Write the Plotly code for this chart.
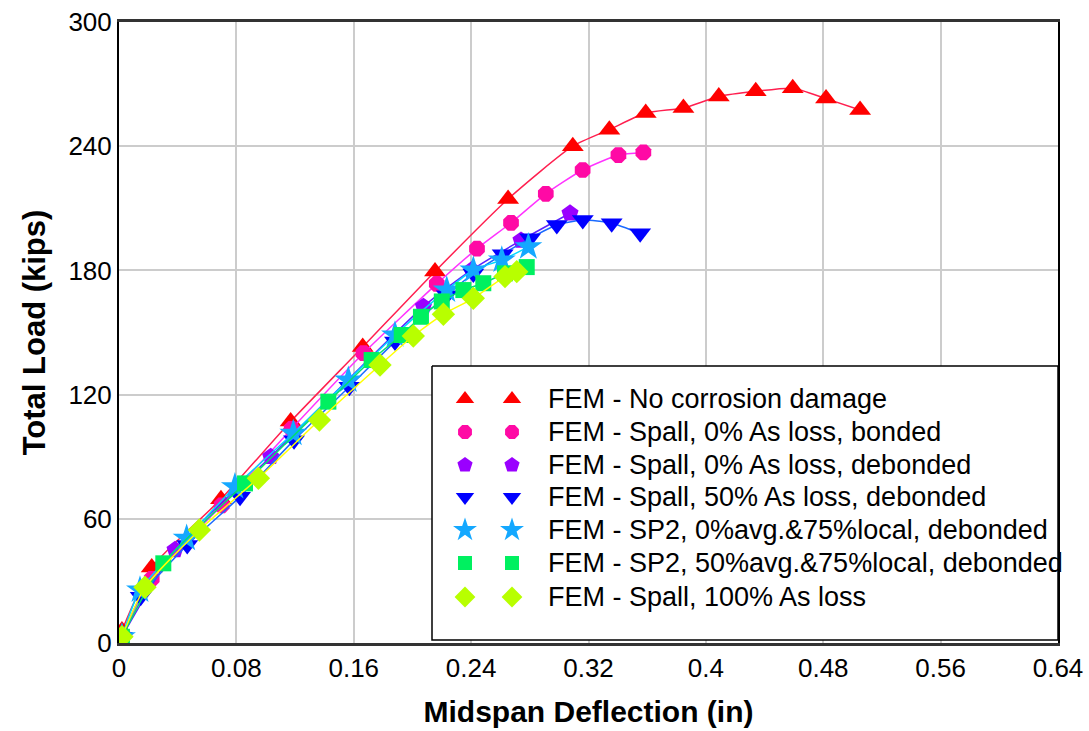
import plotly.graph_objects as go

# Midspan deflection (in) and total load (kips) for each FEM case
nc_x = [0.002, 0.0223, 0.0695, 0.117, 0.1661, 0.2154, 0.2652, 0.3093, 0.3342, 0.359, 0.3847, 0.4088, 0.434, 0.4592, 0.4819, 0.5051]
nc_y = [6, 36.5, 69.5, 107, 143, 179.5, 214.5, 240, 248, 256, 258.5, 264, 266.5, 268, 263, 257.5]

sb_x = [0.002, 0.0223, 0.070, 0.1177, 0.1666, 0.2166, 0.2440, 0.2672, 0.2909, 0.316, 0.3404, 0.3574]
sb_y = [3, 31, 66.5, 103.5, 140, 173.5, 190.5, 203, 217, 228.5, 235.7, 237]

sd_x = [0.002, 0.0382, 0.1034, 0.2075, 0.2404, 0.2740, 0.3074]
sd_y = [3, 45, 90, 162.5, 180.2, 194.5, 207.6]

s50_x = [0.002, 0.0148, 0.0465, 0.0825, 0.1193, 0.157, 0.1881, 0.2234, 0.2415, 0.2615, 0.2802, 0.2984, 0.3161, 0.3358, 0.3552]
s50_y = [3, 22.4, 47.3, 70.7, 98, 123.8, 145.6, 168, 178.5, 187.8, 195.5, 201.9, 204.3, 202.8, 197.9]

sp0_x = [0.002, 0.0143, 0.0461, 0.079, 0.1188, 0.1563, 0.1881, 0.2234, 0.2415, 0.2609, 0.279]
sp0_y = [3, 25.6, 50.6, 75.5, 101.3, 127, 148.8, 170.5, 180.2, 185, 191.4]

sp50_x = [0.002, 0.0302, 0.0859, 0.1427, 0.1722, 0.1927, 0.2058, 0.2200, 0.2347, 0.2483, 0.2631, 0.2779]
sp50_y = [3, 38.5, 77.1, 116.6, 136.7, 148.8, 157.6, 165, 170.5, 173.8, 178.6, 181.6]

s100_x = [0.002, 0.0177, 0.0548, 0.095, 0.1366, 0.1779, 0.2006, 0.2211, 0.2415, 0.2631, 0.2711]
s100_y = [3, 26.9, 54.6, 79.6, 107.7, 134.3, 148.3, 158.8, 166.5, 177, 179.4]

names = [
    "FEM - No corrosion damage",
    "FEM - Spall, 0% As loss, bonded",
    "FEM - Spall, 0% As loss, debonded",
    "FEM - Spall, 50% As loss, debonded",
    "FEM - SP2, 0%avg.&75%local, debonded",
    "FEM - SP2, 50%avg.&75%local, debonded",
    "FEM - Spall, 100% As loss",
]

x_ticks = [0, 0.08, 0.16, 0.24, 0.32, 0.4, 0.48, 0.56, 0.64]
x_tick_text = ["0", "0.08", "0.16", "0.24", "0.32", "0.4", "0.48", "0.56", "0.64"]
y_ticks = [0, 60, 120, 180, 240, 300]

# (x, y, symbol, marker colour, line colour, marker size, legend marker size)
series = [
    (nc_x, nc_y, "triangle-up", "#ff0000", "#ff1f4f", 19, 16),
    (sb_x, sb_y, "octagon", "#ff0aa5", "#ff33ff", 17, 15),
    (sd_x, sd_y, "pentagon", "#9a00ff", "#5a22ff", 18, 16),
    (s50_x, s50_y, "triangle-down", "#0000ff", "#1a6aff", 19, 16),
    (sp0_x, sp0_y, "star", "#14a8ff", "#00d8ff", 21, 18),
    (sp50_x, sp50_y, "square", "#00f060", "#00e070", 16, 14),
    (s100_x, s100_y, "diamond", "#b8ff00", "#ffff00", 18, 16),
]

FONT = "Liberation Sans, Arial, sans-serif"

fig = go.Figure()

for (xs, ys, sym, mcol, lcol, msize, _), name in zip(series, names):
    fig.add_trace(go.Scatter(
        x=xs, y=ys, mode="lines", name=name, showlegend=False,
        line=dict(color=lcol, width=1.5, shape="spline", smoothing=0.6),
        hoverinfo="skip",
    ))
    fig.add_trace(go.Scatter(
        x=xs, y=ys, mode="markers", name=name, showlegend=False,
        marker=dict(symbol=sym, color=mcol, size=msize, line=dict(width=0)),
    ))

# Legend panel drawn on a pixel-scaled overlay axis pair
box_x = [432, 1058, 1058, 432, 432]
box_y = [366, 366, 640, 640, 366]
fig.add_trace(go.Scatter(
    x=box_x, y=box_y, xaxis="x2", yaxis="y2", mode="lines",
    fill="toself", fillcolor="white", line=dict(color="black", width=1.5),
    showlegend=False, hoverinfo="skip",
))
row_y = [399, 432, 465, 497, 530, 563, 597]
for (xs, ys, sym, mcol, lcol, msize, lsize), name, ry in zip(series, names, row_y):
    fig.add_trace(go.Scatter(
        x=[465, 512], y=[ry, ry], xaxis="x2", yaxis="y2", mode="markers",
        marker=dict(symbol=sym, color=mcol, size=lsize, line=dict(width=0)),
        showlegend=False, hoverinfo="skip",
    ))
    fig.add_annotation(
        x=546, y=ry, xref="x2", yref="y2", text=name, showarrow=False,
        xanchor="left", yanchor="middle",
        font=dict(family=FONT, size=27, color="black"),
    )

fig.update_layout(
    width=1089, height=731,
    margin=dict(l=119, r=31, t=22, b=88),
    paper_bgcolor="white", plot_bgcolor="white",
    showlegend=False,
    font=dict(family=FONT, color="black"),
    xaxis=dict(
        range=[0, 0.64], tickvals=x_ticks, ticktext=x_tick_text,
        showgrid=True, gridcolor="#cccccc", gridwidth=1.5,
        showline=True, linecolor="#333333", linewidth=2.5, mirror=True,
        zeroline=False, ticks="", tickfont=dict(size=26, family=FONT),
        automargin=False,
        title=dict(text="<b>Midspan Deflection (in)</b>", font=dict(size=30, family=FONT), standoff=20),
    ),
    yaxis=dict(
        range=[0, 300], tickvals=y_ticks,
        showgrid=True, gridcolor="#cccccc", gridwidth=1.5,
        showline=True, linecolor="black", linewidth=2, mirror=True,
        zeroline=False, ticks="", tickfont=dict(size=26, family=FONT),
        automargin=False,
        title=dict(text="<b>Total Load (kips)</b>", font=dict(size=31, family=FONT), standoff=14),
    ),
    xaxis2=dict(overlaying="x", range=[119, 1058], visible=False, fixedrange=True),
    yaxis2=dict(overlaying="y", range=[643, 22], visible=False, fixedrange=True),
)

fig.write_html("out.html")
